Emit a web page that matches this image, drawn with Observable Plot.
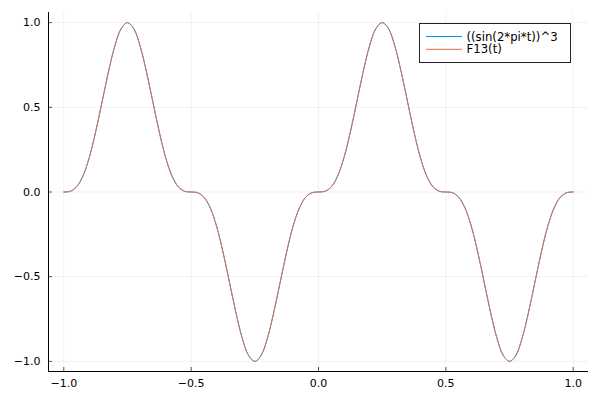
<!DOCTYPE html>
<html>
<head>
<meta charset="utf-8">
<script src="https://cdn.jsdelivr.net/npm/d3@7"></script>
<script src="https://cdn.jsdelivr.net/npm/@observablehq/plot@0.6"></script>
<style>
  body { margin: 0; background: #fff; }
  #wrap { position: relative; width: 600px; height: 400px; font-family: "DejaVu Sans", sans-serif; }
  #legend { position: absolute; left: 419px; top: 23px; }
</style>
</head>
<body>
<div id="wrap"></div>
<script>
// sample points t
const tValues = [
  -1.000, -0.975, -0.950, -0.925, -0.900, -0.875, -0.850, -0.825, -0.800, -0.775,
  -0.750, -0.725, -0.700, -0.675, -0.650, -0.625, -0.600, -0.575, -0.550, -0.525,
  -0.500, -0.475, -0.450, -0.425, -0.400, -0.375, -0.350, -0.325, -0.300, -0.275,
  -0.250, -0.225, -0.200, -0.175, -0.150, -0.125, -0.100, -0.075, -0.050, -0.025,
   0.000,  0.025,  0.050,  0.075,  0.100,  0.125,  0.150,  0.175,  0.200,  0.225,
   0.250,  0.275,  0.300,  0.325,  0.350,  0.375,  0.400,  0.425,  0.450,  0.475,
   0.500,  0.525,  0.550,  0.575,  0.600,  0.625,  0.650,  0.675,  0.700,  0.725,
   0.750,  0.775,  0.800,  0.825,  0.850,  0.875,  0.900,  0.925,  0.950,  0.975,
   1.000
];
// series 1: ((sin(2*pi*t))^3
const sinCubed = [
   0.000,  0.004,  0.030,  0.094,  0.203,  0.354,  0.530,  0.707,  0.860,  0.964,
   1.000,  0.964,  0.860,  0.707,  0.530,  0.354,  0.203,  0.094,  0.030,  0.004,
   0.000, -0.004, -0.030, -0.094, -0.203, -0.354, -0.530, -0.707, -0.860, -0.964,
  -1.000, -0.964, -0.860, -0.707, -0.530, -0.354, -0.203, -0.094, -0.030, -0.004,
   0.000,  0.004,  0.030,  0.094,  0.203,  0.354,  0.530,  0.707,  0.860,  0.964,
   1.000,  0.964,  0.860,  0.707,  0.530,  0.354,  0.203,  0.094,  0.030,  0.004,
   0.000, -0.004, -0.030, -0.094, -0.203, -0.354, -0.530, -0.707, -0.860, -0.964,
  -1.000, -0.964, -0.860, -0.707, -0.530, -0.354, -0.203, -0.094, -0.030, -0.004,
   0.000
];
// series 2: F13(t)
const f13 = [
   0.000,  0.004,  0.030,  0.094,  0.203,  0.354,  0.530,  0.707,  0.860,  0.964,
   1.000,  0.964,  0.860,  0.707,  0.530,  0.354,  0.203,  0.094,  0.030,  0.004,
   0.000, -0.004, -0.030, -0.094, -0.203, -0.354, -0.530, -0.707, -0.860, -0.964,
  -1.000, -0.964, -0.860, -0.707, -0.530, -0.354, -0.203, -0.094, -0.030, -0.004,
   0.000,  0.004,  0.030,  0.094,  0.203,  0.354,  0.530,  0.707,  0.860,  0.964,
   1.000,  0.964,  0.860,  0.707,  0.530,  0.354,  0.203,  0.094,  0.030,  0.004,
   0.000, -0.004, -0.030, -0.094, -0.203, -0.354, -0.530, -0.707, -0.860, -0.964,
  -1.000, -0.964, -0.860, -0.707, -0.530, -0.354, -0.203, -0.094, -0.030, -0.004,
   0.000
];
const seriesNames = ["((sin(2*pi*t))^3", "F13(t)"];
const seriesColors = ["#009AFA", "#E36F47"];
const xTicks = [-1.0, -0.5, 0.0, 0.5, 1.0];
const yTicks = [-1.0, -0.5, 0.0, 0.5, 1.0];
const xDomain = [-1.06, 1.06];
const yDomain = [-1.06, 1.06];

const s1 = tValues.map((t, i) => ({t, y: sinCubed[i]}));
const s2 = tValues.map((t, i) => ({t, y: f13[i]}));
const fmt = d3.format(".1f");

const chart = Plot.plot({
  width: 600,
  height: 400,
  marginLeft: 48,
  marginRight: 12,
  marginTop: 12,
  marginBottom: 29,
  style: { fontSize: "11px", fontFamily: "DejaVu Sans, sans-serif", color: "#000", background: "#fff" },
  x: { domain: xDomain },
  y: { domain: yDomain },
  marks: [
    Plot.gridX(xTicks, { stroke: "#000", strokeOpacity: 0.055, strokeWidth: 1 }),
    Plot.gridY(yTicks, { stroke: "#000", strokeOpacity: 0.055, strokeWidth: 1 }),
    Plot.axisX(xTicks, { tickSize: 0, tickPadding: 8, tickFormat: fmt, label: null }),
    Plot.axisY(yTicks, { tickSize: 0, tickPadding: 8, tickFormat: fmt, label: null }),
    Plot.ruleX(xTicks, { x: d => d, y1: yDomain[0], y2: yDomain[0], insetBottom: 4, stroke: "#555" }),
    Plot.ruleY(yTicks, { y: d => d, x1: xDomain[0], x2: xDomain[0], insetRight: -4, stroke: "#555" }),
    Plot.ruleX([xDomain[0]], { stroke: "#000", strokeWidth: 1 }),
    Plot.ruleY([yDomain[0]], { stroke: "#000", strokeWidth: 1 }),
    Plot.line(s1, { x: "t", y: "y", stroke: seriesColors[0], strokeWidth: 1, curve: "catmull-rom" }),
    Plot.line(s2, { x: "t", y: "y", stroke: seriesColors[1], strokeWidth: 1, curve: "catmull-rom" })
  ]
});

const wrap = document.getElementById("wrap");
wrap.appendChild(chart);

// legend (inside the plot area, top right)
const lw = 152, lh = 40;
const legend = d3.select(wrap).append("svg")
  .attr("id", "legend")
  .attr("width", lw).attr("height", lh)
  .style("font-family", "DejaVu Sans, sans-serif");
legend.append("rect")
  .attr("x", 0.5).attr("y", 0.5).attr("width", lw - 1).attr("height", lh - 1)
  .attr("fill", "#fff").attr("stroke", "#222").attr("stroke-width", 1);
seriesNames.forEach((name, i) => {
  const cy = 13.5 + i * 12.8;
  legend.append("line")
    .attr("x1", 7).attr("x2", 43).attr("y1", cy).attr("y2", cy)
    .attr("stroke", seriesColors[i]).attr("stroke-width", 1);
  legend.append("text")
    .attr("x", 47.5).attr("y", cy).attr("dy", "0.35em")
    .attr("font-size", "11.7px").attr("fill", "#000")
    .text(name);
});
</script>
</body>
</html>
